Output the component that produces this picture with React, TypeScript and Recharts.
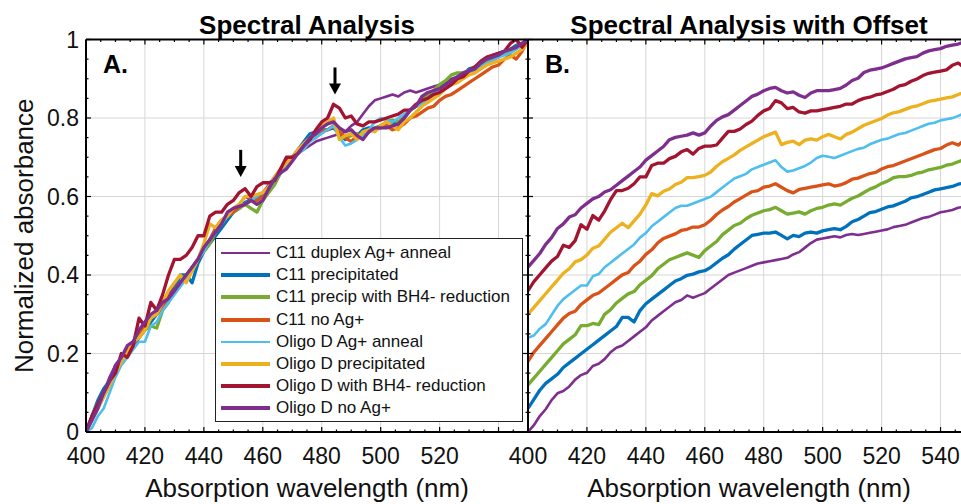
import React from 'react';
import { LineChart, Line, XAxis, YAxis, CartesianGrid, Legend, ReferenceDot } from 'recharts';

const FONT = '"Liberation Sans", Arial, Helvetica, sans-serif';

// ---------- data ----------
const wavelengths = [
  400, 402, 404, 406, 408, 410, 412, 414, 416, 418,
  420, 422, 424, 426, 428, 430, 432, 434, 436, 438,
  440, 442, 444, 446, 448, 450, 452, 454, 456, 458,
  460, 462, 464, 466, 468, 470, 472, 474, 476, 478,
  480, 482, 484, 486, 488, 490, 492, 494, 496, 498,
  500, 502, 504, 506, 508, 510, 512, 514, 516, 518,
  520, 522, 524, 526, 528, 530, 532, 534, 536, 538,
  540, 542, 544, 546, 548, 550,
];

const c11DuplexAnneal = [
  0.00, 0.03, 0.07, 0.10, 0.14, 0.17, 0.18, 0.20, 0.23, 0.25,
  0.26, 0.29, 0.30, 0.32, 0.35, 0.37, 0.38, 0.40, 0.42, 0.44,
  0.46, 0.49, 0.51, 0.53, 0.55, 0.57, 0.58, 0.60, 0.59, 0.60,
  0.61, 0.63, 0.65, 0.67, 0.69, 0.70, 0.71, 0.72, 0.73, 0.74,
  0.745, 0.75, 0.755, 0.76, 0.765, 0.78, 0.79, 0.81, 0.83, 0.845,
  0.85, 0.855, 0.86, 0.855, 0.865, 0.87, 0.865, 0.87, 0.875, 0.88,
  0.885, 0.89, 0.90, 0.905, 0.91, 0.92, 0.93, 0.94, 0.945, 0.955,
  0.965, 0.97, 0.975, 0.985, 0.99, 1.0,
];
const c11Precipitated = [
  0.00, 0.04, 0.08, 0.11, 0.13, 0.15, 0.18, 0.20, 0.22, 0.24,
  0.26, 0.28, 0.30, 0.32, 0.34, 0.36, 0.40, 0.40, 0.38, 0.43,
  0.46, 0.48, 0.50, 0.52, 0.54, 0.56, 0.57, 0.585, 0.59, 0.60,
  0.605, 0.62, 0.64, 0.66, 0.675, 0.70, 0.72, 0.74, 0.76, 0.765,
  0.77, 0.77, 0.775, 0.76, 0.745, 0.76, 0.755, 0.77, 0.775, 0.77,
  0.78, 0.785, 0.79, 0.785, 0.80, 0.82, 0.83, 0.845, 0.86, 0.865,
  0.875, 0.885, 0.89, 0.90, 0.91, 0.925, 0.93, 0.94, 0.95, 0.96,
  0.965, 0.97, 0.975, 0.985, 0.99, 1.0,
];
const c11PrecipBH4 = [
  0.00, 0.03, 0.06, 0.09, 0.12, 0.15, 0.18, 0.20, 0.22, 0.26,
  0.26, 0.27, 0.265, 0.31, 0.33, 0.36, 0.38, 0.40, 0.41, 0.44,
  0.46, 0.48, 0.51, 0.53, 0.55, 0.56, 0.57, 0.58, 0.57, 0.56,
  0.59, 0.61, 0.63, 0.66, 0.68, 0.70, 0.71, 0.73, 0.745, 0.755,
  0.765, 0.77, 0.78, 0.765, 0.75, 0.755, 0.76, 0.75, 0.765, 0.775,
  0.78, 0.79, 0.795, 0.79, 0.805, 0.82, 0.83, 0.845, 0.86, 0.87,
  0.885, 0.895, 0.91, 0.915, 0.915, 0.92, 0.93, 0.935, 0.945, 0.95,
  0.955, 0.965, 0.97, 0.98, 0.99, 1.0,
];
const c11NoAg = [
  0.00, 0.04, 0.07, 0.10, 0.13, 0.16, 0.19, 0.21, 0.22, 0.25,
  0.27, 0.29, 0.30, 0.32, 0.34, 0.36, 0.38, 0.39, 0.42, 0.44,
  0.47, 0.49, 0.52, 0.54, 0.55, 0.56, 0.575, 0.58, 0.59, 0.59,
  0.60, 0.62, 0.645, 0.665, 0.68, 0.70, 0.715, 0.73, 0.745, 0.75,
  0.765, 0.77, 0.78, 0.765, 0.75, 0.74, 0.755, 0.76, 0.765, 0.77,
  0.775, 0.78, 0.77, 0.775, 0.785, 0.80, 0.805, 0.815, 0.825, 0.83,
  0.845, 0.855, 0.86, 0.87, 0.88, 0.89, 0.90, 0.91, 0.92, 0.93,
  0.935, 0.95, 0.96, 0.95, 0.97, 1.0,
];
const oligoDAnneal = [
  0.00, 0.01, 0.04, 0.06, 0.10, 0.14, 0.17, 0.19, 0.21, 0.23,
  0.23, 0.27, 0.28, 0.31, 0.33, 0.35, 0.37, 0.39, 0.41, 0.44,
  0.46, 0.49, 0.51, 0.53, 0.55, 0.57, 0.58, 0.58, 0.59, 0.60,
  0.61, 0.62, 0.64, 0.66, 0.68, 0.70, 0.71, 0.72, 0.74, 0.75,
  0.76, 0.77, 0.78, 0.75, 0.73, 0.735, 0.745, 0.755, 0.77, 0.79,
  0.80, 0.795, 0.79, 0.80, 0.81, 0.82, 0.83, 0.835, 0.85, 0.86,
  0.87, 0.875, 0.885, 0.895, 0.90, 0.91, 0.92, 0.93, 0.94, 0.945,
  0.955, 0.96, 0.965, 0.975, 0.985, 0.995,
];
const oligoDPrecipitated = [
  0.00, 0.03, 0.06, 0.09, 0.12, 0.15, 0.18, 0.20, 0.23, 0.24,
  0.26, 0.29, 0.30, 0.33, 0.36, 0.38, 0.40, 0.38, 0.41, 0.44,
  0.48, 0.53, 0.52, 0.54, 0.55, 0.57, 0.58, 0.60, 0.60, 0.605,
  0.61, 0.625, 0.65, 0.67, 0.685, 0.70, 0.72, 0.735, 0.75, 0.765,
  0.78, 0.79, 0.80, 0.745, 0.755, 0.76, 0.745, 0.765, 0.77, 0.765,
  0.78, 0.79, 0.78, 0.77, 0.79, 0.80, 0.815, 0.83, 0.84, 0.85,
  0.86, 0.875, 0.885, 0.89, 0.90, 0.91, 0.915, 0.925, 0.935, 0.94,
  0.945, 0.95, 0.955, 0.965, 0.975, 0.99,
];
const oligoDBH4 = [
  0.00, 0.04, 0.07, 0.10, 0.13, 0.15, 0.20, 0.19, 0.22, 0.29,
  0.27, 0.33, 0.31, 0.35, 0.40, 0.44, 0.44, 0.45, 0.47, 0.50,
  0.50, 0.55, 0.56, 0.56, 0.58, 0.59, 0.61, 0.62, 0.60, 0.625,
  0.635, 0.635, 0.64, 0.67, 0.70, 0.70, 0.71, 0.73, 0.745, 0.77,
  0.79, 0.80, 0.835, 0.825, 0.80, 0.805, 0.785, 0.78, 0.79, 0.79,
  0.795, 0.80, 0.805, 0.81, 0.82, 0.82, 0.835, 0.845, 0.85, 0.86,
  0.865, 0.875, 0.885, 0.90, 0.905, 0.92, 0.93, 0.945, 0.955, 0.96,
  0.965, 0.97, 0.99, 1.0, 0.98, 1.0,
];
const oligoDNoAg = [
  0.00, 0.03, 0.06, 0.10, 0.13, 0.17, 0.19, 0.22, 0.23, 0.26,
  0.28, 0.30, 0.31, 0.33, 0.34, 0.36, 0.38, 0.40, 0.42, 0.44,
  0.47, 0.49, 0.51, 0.53, 0.56, 0.57, 0.575, 0.58, 0.59, 0.58,
  0.59, 0.62, 0.645, 0.66, 0.67, 0.69, 0.71, 0.73, 0.75, 0.76,
  0.775, 0.785, 0.79, 0.775, 0.765, 0.77, 0.755, 0.745, 0.765, 0.775,
  0.775, 0.775, 0.78, 0.785, 0.80, 0.82, 0.83, 0.855, 0.865, 0.87,
  0.875, 0.885, 0.895, 0.905, 0.915, 0.92, 0.925, 0.94, 0.95, 0.955,
  0.96, 0.97, 0.975, 0.98, 0.99, 1.0,
];

const seriesNames = [
  'C11 duplex Ag+ anneal',
  'C11 precipitated',
  'C11 precip with BH4- reduction',
  'C11 no Ag+',
  'Oligo D Ag+ anneal',
  'Oligo D precipitated',
  'Oligo D with BH4- reduction',
  'Oligo D no Ag+',
];
const seriesValues = [
  c11DuplexAnneal, c11Precipitated, c11PrecipBH4, c11NoAg,
  oligoDAnneal, oligoDPrecipitated, oligoDBH4, oligoDNoAg,
];
const seriesColors = ['#7E2F8E', '#0072BD', '#77AC30', '#D95319', '#4DBEEE', '#EDB120', '#A2142F', '#7E2F8E'];
const seriesWidths = [2.6, 3.3, 3.3, 3.3, 2.6, 3.3, 3.3, 3.3];
const legendWidths = [2, 4, 4, 4, 2, 4, 4, 4];

// offset plot: each curve compressed and shifted by a constant step
const OFFSET_STEP = 0.06;
const OFFSET_SCALE = 1 - OFFSET_STEP * (seriesValues.length - 1);

const xGridValues = [400, 420, 440, 460, 480, 500, 520, 540];
const xAllTicks = [400, 405, 410, 415, 420, 425, 430, 435, 440, 445, 450, 455, 460, 465, 470, 475, 480, 485, 490, 495, 500, 505, 510, 515, 520, 525, 530, 535, 540, 545];
const yGridValues = [0, 0.2, 0.4, 0.6, 0.8, 1];
const yAllTicks = [0, 0.05, 0.1, 0.15, 0.2, 0.25, 0.3, 0.35, 0.4, 0.45, 0.5, 0.55, 0.6, 0.65, 0.7, 0.75, 0.8, 0.85, 0.9, 0.95, 1];

const arrowMarks = [
  { x: 452.5, y: 0.65 },
  { x: 484.5, y: 0.86 },
];

const rows = wavelengths.map((w, i) => {
  const r: Record<string, number> = { w };
  seriesValues.forEach((s, k) => {
    r['a' + k] = s[i];
    r['b' + k] = s[i] * OFFSET_SCALE + k * OFFSET_STEP;
  });
  return r;
});

const isMajorX = (v: number) => xGridValues.indexOf(v) >= 0;
const isMajorY = (v: number) => yGridValues.some((g) => Math.abs(g - v) < 1e-9);

// ---------- renderers ----------
const makeXTick = (dir: number, labelMax: number | null) => (props: any) => {
  const { x, y, payload } = props;
  const major = isMajorX(payload.value);
  const len = major ? 5 : 2.5;
  return (
    <g>
      <line x1={x} x2={x} y1={y} y2={y + dir * len} stroke="#000" strokeWidth={1.2} />
      {labelMax !== null && major && payload.value <= labelMax && (
        <text x={x} y={y + 31.5} textAnchor="middle" fontSize={23} fill="#111" fontFamily={FONT}>
          {payload.value}
        </text>
      )}
    </g>
  );
};

const makeYTick = (dir: number, showLabel: boolean) => (props: any) => {
  const { x, y, payload } = props;
  const major = isMajorY(payload.value);
  const len = major ? 5 : 2.5;
  return (
    <g>
      <line x1={x} x2={x + dir * len} y1={y} y2={y} stroke="#000" strokeWidth={1.2} />
      {showLabel && major && (
        <text x={x - 7} y={y + 8} textAnchor="end" fontSize={23} fill="#111" fontFamily={FONT}>
          {payload.value}
        </text>
      )}
    </g>
  );
};

const ArrowShape = (props: any) => {
  const { cx, cy } = props;
  return (
    <g>
      <line x1={cx} x2={cx} y1={cy - 27} y2={cy - 9} stroke="#000" strokeWidth={3} />
      <path d={`M${cx - 6},${cy - 11} L${cx + 6},${cy - 11} L${cx},${cy} Z`} fill="#000" />
    </g>
  );
};

const renderLegend = (props: any) => {
  const payload = [...(props.payload || [])].sort(
    (a: any, b: any) => seriesNames.indexOf(a.value) - seriesNames.indexOf(b.value)
  );
  return (
    <div
      style={{
        boxSizing: 'border-box', width: 308, height: 184, border: '1.5px solid #222',
        background: '#fff', paddingTop: 3, fontFamily: FONT,
      }}
    >
      {payload.map((entry: any, i: number) => {
        const k = seriesNames.indexOf(entry.value);
        return (
          <div key={i} style={{ height: 22.2, display: 'flex', alignItems: 'center' }}>
            <svg width={60} height={22} style={{ flex: 'none' }}>
              <line x1={5} x2={54} y1={11} y2={11} stroke={entry.color} strokeWidth={legendWidths[k]} />
            </svg>
            <span style={{ fontSize: 17, color: '#111', whiteSpace: 'nowrap', lineHeight: '22px' }}>{entry.value}</span>
          </div>
        );
      })}
    </div>
  );
};

type PanelProps = {
  left: number;
  width: number;
  margin: { top: number; right: number; bottom: number; left: number };
  prefix: string;
  title: string;
  tag: string;
  showYLabels: boolean;
  xLabelMax: number;
  rightAxis: boolean;
  legend: boolean;
  arrows: { x: number; y: number }[];
};

function Panel(p: PanelProps) {
  const axisLine = { stroke: '#000', strokeWidth: 2 };
  const commonX = { type: 'number' as const, domain: [400, 550], allowDataOverflow: true, height: 1, tickSize: 0, tickMargin: 0, tickLine: false, interval: 0 as const, ticks: xAllTicks, axisLine };
  const commonY = { type: 'number' as const, domain: [0, 1], allowDataOverflow: true, width: 1, tickSize: 0, tickMargin: 0, tickLine: false, interval: 0 as const, ticks: yAllTicks, axisLine };
  return (
    <div style={{ position: 'absolute', left: p.left, top: 0 }}>
      <LineChart width={p.width} height={504} data={rows} margin={p.margin}>
        <CartesianGrid
          xAxisId="xM" yAxisId="yM" stroke="#d6d6d6" strokeWidth={1}
          verticalValues={xGridValues} horizontalValues={yGridValues}
        />
        <XAxis
          xAxisId="xM" dataKey="w" {...commonX}
          tick={makeXTick(-1, p.xLabelMax)}
          label={(lp: any) => {
            const vb = lp.viewBox;
            return (
              <text x={vb.x + vb.width / 2} y={vb.y + 65} textAnchor="middle" fontSize={26} fill="#111" fontFamily={FONT}>
                Absorption wavelength (nm)
              </text>
            );
          }}
        />
        <XAxis
          xAxisId="xT" dataKey="w" orientation="top" {...commonX}
          tick={makeXTick(1, null)}
          label={(lp: any) => {
            const vb = lp.viewBox;
            const top = vb.y + vb.height;
            return (
              <g>
                <text x={vb.x + vb.width / 2} y={top - 6} textAnchor="middle" fontSize={26} fontWeight="bold" fill="#000" fontFamily={FONT}>
                  {p.title}
                </text>
                <text x={vb.x + 17} y={top + 33.5} fontSize={25} fontWeight="bold" fill="#000" fontFamily={FONT}>
                  {p.tag}
                </text>
              </g>
            );
          }}
        />
        <YAxis
          yAxisId="yM" {...commonY}
          tick={makeYTick(1, p.showYLabels)}
          label={p.showYLabels ? (lp: any) => {
            const vb = lp.viewBox;
            const cx = vb.x + vb.width - 53;
            const cy = vb.y + vb.height / 2;
            return (
              <text x={cx} y={cy} transform={`rotate(-90, ${cx}, ${cy})`} textAnchor="middle" fontSize={26} fill="#111" fontFamily={FONT}>
                Normalized absorbance
              </text>
            );
          } : undefined}
        />
        {p.rightAxis && (
          <YAxis yAxisId="yR" orientation="right" {...commonY} tick={makeYTick(-1, false)} />
        )}
        {seriesNames.map((name, k) => (
          <Line
            key={name}
            xAxisId="xM"
            yAxisId="yM"
            type="linear"
            dataKey={p.prefix + k}
            name={name}
            stroke={seriesColors[k]}
            strokeWidth={seriesWidths[k]}
            strokeLinejoin="round"
            dot={false}
            activeDot={false}
            isAnimationActive={false}
          />
        ))}
        {p.arrows.map((a, i) => (
          <ReferenceDot key={i} xAxisId="xM" yAxisId="yM" x={a.x} y={a.y} r={6} shape={ArrowShape} />
        ))}
        {p.legend && (
          <Legend
            layout="vertical"
            align="center"
            verticalAlign="middle"
            content={renderLegend}
            wrapperStyle={{ position: 'absolute', left: 215, top: 238, width: 308, height: 184, margin: 0, padding: 0 }}
          />
        )}
      </LineChart>
    </div>
  );
}

export default function App() {
  return (
    <div style={{ position: 'absolute', left: 0, top: 0, width: 961, height: 504, overflow: 'hidden', background: '#fff' }}>
      <Panel
        left={0}
        width={540}
        margin={{ top: 38.5, right: 11, bottom: 71, left: 85 }}
        prefix="a"
        title="Spectral Analysis"
        tag="A."
        showYLabels={true}
        xLabelMax={520}
        rightAxis={true}
        legend={true}
        arrows={arrowMarks}
      />
      <Panel
        left={440}
        width={540}
        margin={{ top: 38.5, right: 10, bottom: 71, left: 87 }}
        prefix="b"
        title="Spectral Analysis with Offset"
        tag="B."
        showYLabels={false}
        xLabelMax={540}
        rightAxis={false}
        legend={false}
        arrows={[]}
      />
    </div>
  );
}
